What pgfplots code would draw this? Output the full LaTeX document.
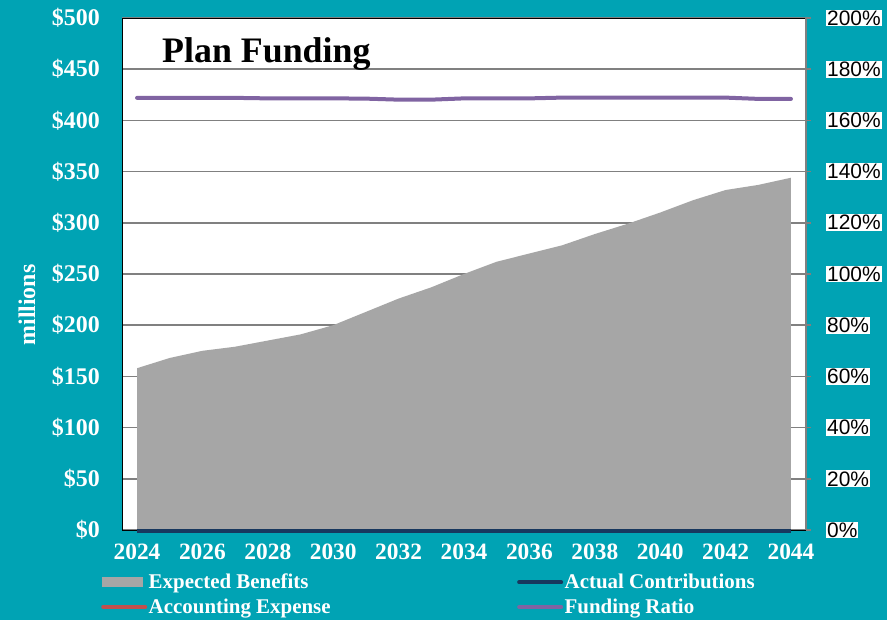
\documentclass[border=0pt]{standalone}
\usepackage{fontspec}
\setmainfont{Liberation Serif}
\newfontfamily\arialfont{Liberation Sans}
\usepackage{pgfplots}
\pgfplotsset{compat=1.18}

\definecolor{bgteal}{RGB}{0,163,180}
\definecolor{benefitgray}{RGB}{166,166,166}
\definecolor{ratiopurple}{RGB}{128,100,162}
\definecolor{contribnavy}{RGB}{23,55,94}
\definecolor{expensered}{RGB}{192,80,77}
\definecolor{gridgray}{RGB}{128,128,128}

\begin{document}
\begin{tikzpicture}
\fill[bgteal] (0bp,0bp) rectangle (887bp,620bp);

\begin{axis}[
  at={(122bp,90bp)}, anchor=south west,
  scale only axis, width=684bp, height=512bp,
  xmin=2023.54, xmax=2044.46, ymin=0, ymax=500,
  clip=false,
  axis background/.style={fill=white},
  axis line style={black, line width=0.8bp},
  xtick={2024,2026,...,2044},
  xticklabels={2024,2026,2028,2030,2032,2034,2036,2038,2040,2042,2044},
  ytick={0,50,...,500},
  yticklabels={\$0,\$50,\$100,\$150,\$200,\$250,\$300,\$350,\$400,\$450,\$500},
  ymajorgrids, grid style={gridgray, line width=1.5bp},
  major tick style={draw=none},
  xticklabel style={font=\fontsize{23.5}{23.5}\selectfont\bfseries, text=white, inner sep=0bp, anchor=north, yshift=-14bp},
  yticklabel style={font=\fontsize{24}{24}\selectfont\bfseries, text=white, inner sep=0bp, anchor=east, xshift=-22bp},
  legend style={at={(-0.035,-0.079)}, anchor=north west, draw=none, fill=none,
    font=\fontsize{21}{21}\selectfont\bfseries, text=white,
    nodes={inner sep=1.5bp}, /tikz/row sep=5.5bp,
    /tikz/every even column/.append style={column sep=185bp}},
  legend columns=2, legend cell align=left,
]
\addplot[fill=benefitgray, draw=none, area legend,
  legend image code/.code={\fill[benefitgray] (0bp,-5bp) rectangle (41bp,5bp);}]
  coordinates {
  (2024,158) (2025,168) (2026,175) (2027,179) (2028,185) (2029,191)
  (2030,200) (2031,213) (2032,226) (2033,237) (2034,250) (2035,262)
  (2036,270) (2037,278) (2038,289) (2039,299) (2040,310) (2041,322)
  (2042,332) (2043,337) (2044,344)} \closedcycle;
\addlegendentry{Expected Benefits}
\addplot[expensered, line width=4bp, forget plot] coordinates {
  (2024,-1) (2026,-1) (2028,-1) (2030,-1) (2032,-1) (2034,-1)
  (2036,-1) (2038,-1) (2040,-1) (2042,-1) (2044,-1)};
\addplot[contribnavy, line width=4bp,
  legend image code/.code={\draw[line cap=round] (1bp,0bp) -- (43bp,0bp);}]
  coordinates {
  (2024,-1) (2026,-1) (2028,-1) (2030,-1) (2032,-1) (2034,-1)
  (2036,-1) (2038,-1) (2040,-1) (2042,-1) (2044,-1)};
\addlegendentry{Actual Contributions}
\addlegendimage{expensered, line width=4bp,
  legend image code/.code={\draw[line cap=round] (1bp,0bp) -- (43bp,0bp);}}
\addlegendentry{Accounting Expense}
\addlegendimage{ratiopurple, line width=4bp,
  legend image code/.code={\draw[line cap=round] (1bp,0bp) -- (43bp,0bp);}}
\addlegendentry{Funding Ratio}
\end{axis}

\begin{axis}[
  at={(122bp,90bp)}, anchor=south west,
  scale only axis, width=684bp, height=512bp,
  xmin=2023.54, xmax=2044.46, ymin=0, ymax=200,
  axis x line=none, axis y line*=right,
  axis line style={gridgray, line width=1.5bp, -},
  ytick={0,20,...,200},
  yticklabels={0\%,20\%,40\%,60\%,80\%,100\%,120\%,140\%,160\%,180\%,200\%},
  tick align=outside, major tick length=5bp,
  major tick style={gridgray, line width=1.5bp},
  yticklabel style={font=\arialfont\fontsize{21}{21}\selectfont, text=black, fill=white,
    inner sep=1bp, anchor=west, xshift=15bp},
]
\addplot[ratiopurple, line width=4bp, line cap=round] coordinates {
  (2024,168.8) (2025,168.8) (2026,168.8) (2027,168.8) (2028,168.6) (2029,168.6)
  (2030,168.6) (2031,168.5) (2032,168.1) (2033,168.1) (2034,168.6) (2035,168.6)
  (2036,168.6) (2037,168.9) (2038,168.9) (2039,168.9) (2040,168.9) (2041,168.9)
  (2042,168.9) (2043,168.4) (2044,168.4)};
\end{axis}

\node[anchor=base west, inner sep=0bp, font=\fontsize{36}{36}\selectfont\bfseries]
  at (162bp,557bp) {Plan Funding};
\node[rotate=90, inner sep=0bp, text=white, font=\fontsize{24}{24}\selectfont\bfseries]
  at (27bp,315bp) {millions};
\pgfresetboundingbox
\useasboundingbox (0bp,0bp) rectangle (887bp,620bp);
\end{tikzpicture}
\end{document}
